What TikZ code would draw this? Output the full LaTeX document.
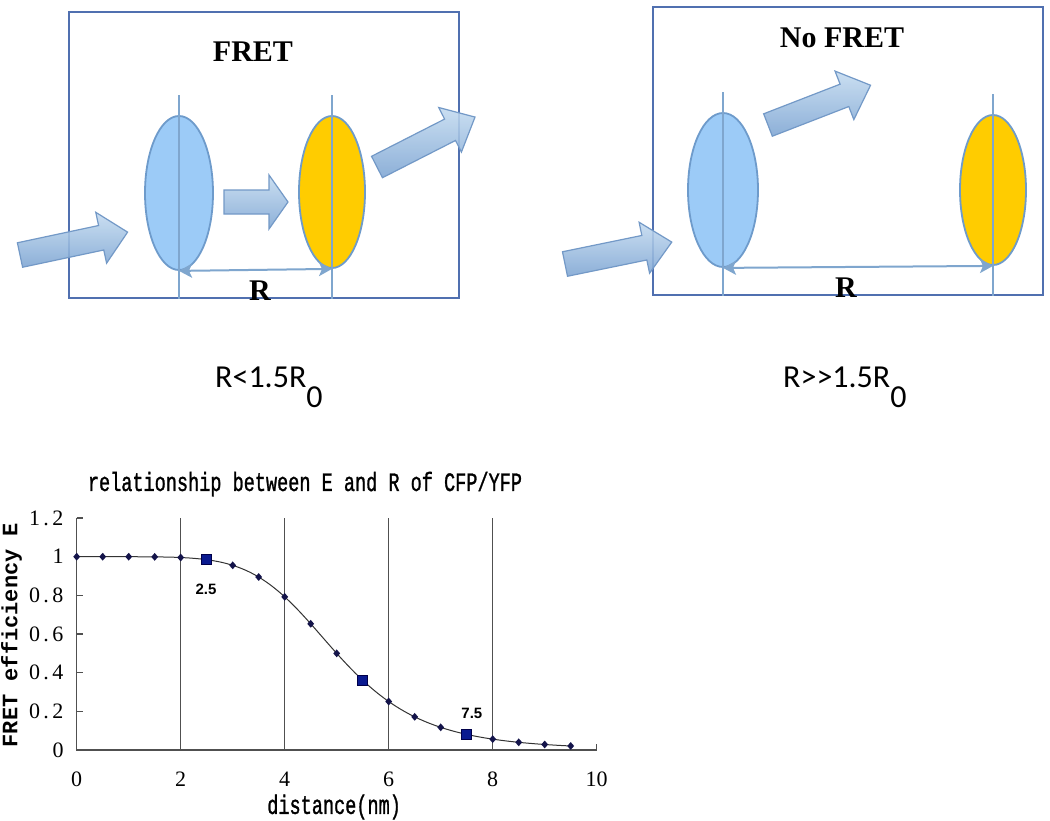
\documentclass[tikz,border=0pt]{standalone}
\usepackage{fontspec}
\usepackage{graphicx}
\usetikzlibrary{shapes.geometric,arrows.meta}
\newfontfamily\lserif{Liberation Serif}
\newfontfamily\lmono[FakeBold=1.4]{Liberation Mono}
\newfontfamily\lmonob{Liberation Mono}
\newfontfamily\calib{Carlito}
\newfontfamily\lsans{Liberation Sans}
\definecolor{boxcol}{HTML}{5070B0}
\definecolor{donorfill}{HTML}{9CCBF7}
\definecolor{accfill}{HTML}{FFCC00}
\definecolor{ellcol}{HTML}{6E9BCB}
\definecolor{vlinecol}{HTML}{7FA6CE}
\definecolor{arrlight}{HTML}{C4DBF0}
\definecolor{arrdark}{HTML}{7DA5D3}
\definecolor{arrborder}{HTML}{7399C7}
\definecolor{gridcol}{HTML}{505050}
\definecolor{curvecol}{HTML}{333333}
\definecolor{markcol}{HTML}{14144A}
\definecolor{sqfill}{HTML}{0A1A90}
\definecolor{sqdraw}{HTML}{00004A}
\newcommand\fretarrow[7]{%
  \begin{scope}[shift={(#1,#2)}, rotate=#3]
    \path[blockarr] (0,#5) -- ({#4-#7},#5) -- ({#4-#7},#6) -- (#4,0)
      -- ({#4-#7},-#6) -- ({#4-#7},-#5) -- (0,-#5) -- cycle;
  \end{scope}}
\newcommand\dotnum[2]{#1\kern3.5pt.\kern3.5pt#2}
\tikzset{
  panel/.style={draw=boxcol, line width=2.5pt, minimum width=390pt, minimum height=286pt, inner sep=0pt},
  donor/.style={ellipse, draw=ellcol, line width=1.8pt, fill=donorfill, minimum width=68pt, minimum height=154pt, inner sep=0pt},
  acceptor/.style={ellipse, draw=ellcol, line width=1.8pt, fill=accfill, minimum width=66pt, minimum height=152pt, inner sep=0pt},
  vline/.style={draw=vlinecol, line width=1.5pt},
  rarrow/.style={draw=vlinecol, line width=2pt, {Stealth[length=13pt,width=14pt,inset=3pt]}-{Stealth[length=13pt,width=14pt,inset=3pt]}},
  blockarr/.style={draw=arrborder, line width=1.2pt, top color=arrlight, bottom color=arrdark, fill opacity=0.88},
  paneltitle/.style={font=\lserif\bfseries\fontsize{30}{34}\selectfont, inner sep=0pt},
  rlabel/.style={font=\lserif\bfseries\fontsize{30}{34}\selectfont, inner sep=0pt},
  cond/.style={font=\calib\fontsize{32}{36}\selectfont, inner sep=0pt},
  grid/.style={draw=gridcol, line width=1.1pt},
  axisln/.style={draw=gridcol, line width=1.3pt},
  curve/.style={draw=curvecol, line width=1pt},
  dmark/.style={diamond, fill=markcol, inner sep=0pt, minimum width=7pt, minimum height=8pt},
  smark/.style={rectangle, fill=sqfill, draw=sqdraw, line width=0.8pt, inner sep=0pt, minimum size=10pt},
  ticklab/.style={font=\lserif\fontsize{22}{24}\selectfont, inner sep=0pt},
  ptlab/.style={font=\lsans\bfseries\fontsize{15}{18}\selectfont, inner sep=0pt}
}
\begin{document}
\begin{tikzpicture}[x=1pt, y=-1pt]
\useasboundingbox (0,0) rectangle (1050,820);
\fill[white] (0,0) rectangle (1050,820);

% ---------- panels ----------
\node[panel] (p1) at (264,155) {};
\node[panel, minimum height=288pt] (p2) at (848,151) {};

% block arrows (light)
\fretarrow{20}{255}{12}{110}{12.5}{26}{27}
\fretarrow{224}{202}{0}{64}{12}{27}{19}
\fretarrow{377}{167}{27}{110}{12}{25}{28}
\fretarrow{565}{264}{11.6}{109}{12.5}{26}{28}
\fretarrow{768}{125}{21.2}{110}{12}{26}{28}

% fluorophores
\node[donor] (d1) at (179,193) {};
\node[acceptor] (a1) at (332,192) {};
\node[donor, minimum width=70pt] (d2) at (723,190) {};
\node[acceptor, minimum height=150pt] (a2) at (993,190) {};

\draw[vline] ([yshift=20pt]d1.north) -- (d1.center |- p1.south);
\draw[vline] ([yshift=20pt]a1.north) -- (a1.center |- p1.south);
\draw[vline] ([yshift=20pt]d2.north) -- (d2.center |- p2.south);
\draw[vline] ([yshift=20pt]a2.north) -- (a2.center |- p2.south);

\draw[rarrow] (d1.south) -- (a1.south);
\draw[rarrow] (d2.south) -- (a2.south);

\node[paneltitle] (t1) at (253,52) {FRET};
\node[paneltitle] (t2) at (842,38) {No FRET};
\node[rlabel] (r1) at (260,291) {R};
\node[rlabel] (r2) at (846,288) {R};

\node[cond, anchor=base west] (c1) at (215,387) {R<1.5R\raisebox{-20.5pt}{0}};
\node[cond, anchor=base west] (c2) at (783,387) {R>>1.5R\raisebox{-20.5pt}{0}};

% ---------- chart ----------
\begin{scope}[shift={(76.7,750)}, x=52pt, y=193.3pt]
  \foreach \g in {2,4,6,8} \draw[grid] (\g,0) -- (\g,1.2);
  \draw[axisln] (0,1.2) -- (0,0) -- (10,0) -- ++(0,6pt);
  \foreach \e in {0.2,0.4,0.6,0.8,1,1.2} \draw[axisln] (0,\e) -- ++(6pt,0);
  \draw[curve] plot[domain=0:9.5, samples=96, smooth] (\x, {1/(1+(\x/5)^6)});
  \foreach \r [count=\i] in {0,0.5,...,9.5}
    \node[dmark] (m\i) at (\r, {1/(1+(\r/5)^6)}) {};
  \node[smark] (s1) at (2.5, {1/(1+(2.5/5)^6)}) {};
  \node[smark] (s2) at (5.5, {1/(1+(5.5/5)^6)}) {};
  \node[smark] (s3) at (7.5, {1/(1+(7.5/5)^6)}) {};
  \node[ptlab] (l1) at (2.487,0.833) {2.5};
  \node[ptlab] (l2) at (7.6,0.191) {7.5};
  % y tick labels
  \node[ticklab, anchor=east, xshift=-13pt] (y0) at (0,0) {0};
  \node[ticklab, anchor=east, xshift=-13pt] (y1) at (0,0.2) {\dotnum{0}{2}};
  \node[ticklab, anchor=east, xshift=-13pt] (y2) at (0,0.4) {\dotnum{0}{4}};
  \node[ticklab, anchor=east, xshift=-13pt] (y3) at (0,0.6) {\dotnum{0}{6}};
  \node[ticklab, anchor=east, xshift=-13pt] (y4) at (0,0.8) {\dotnum{0}{8}};
  \node[ticklab, anchor=east, xshift=-13pt] (y5) at (0,1) {1};
  \node[ticklab, anchor=east, xshift=-13pt] (y6) at (0,1.2) {\dotnum{1}{2}};
  % x tick labels
  \foreach \v in {0,2,4,6,8,10}
    \node[ticklab, yshift=-29pt] (x\v) at (\v,0) {\v};
  % titles
  \node[inner sep=0pt, anchor=base] (ct) at (4.39,1.34)
    {\scalebox{0.7}[1]{\lmono\fontsize{26.5}{30}\selectfont relationship between E and R of CFP/YFP}};
  \node[inner sep=0pt] (cx) at (4.95,-0.295)
    {\scalebox{0.7}[1]{\lmono\fontsize{26.5}{30}\selectfont distance(nm)}};
  \node[inner sep=0pt, rotate=90] (cy) at (-1.253,0.595)
    {\lmonob\bfseries\fontsize{22}{26}\selectfont FRET efficiency E};
\end{scope}
\end{tikzpicture}
\end{document}
